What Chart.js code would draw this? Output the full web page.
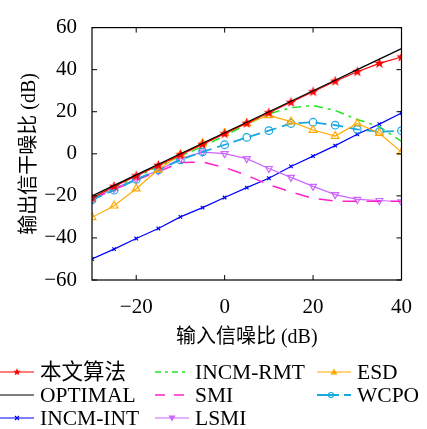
<!DOCTYPE html>
<html><head><meta charset="utf-8">
<script src="https://cdn.jsdelivr.net/npm/chart.js@4/dist/chart.umd.min.js"></script>
<style>html,body{margin:0;padding:0;background:#fff}#wrap{width:427px;height:429px;position:relative}</style>
</head><body><div id="wrap"><canvas id="c" width="427" height="429"></canvas></div>
<script>
const snrIn = [-30,-25,-20,-15,-10,-5,0,5,10,15,20,25,30,35,40];
const proposed = [-21,-15.5,-10.5,-5.5,-0.5,4.5,9.5,14.5,19.5,24.5,29.5,34.5,39,43,46];
const optimal = [-20,-15,-10,-5,0,5,10,15,20,25,30,35,40,45,50];
const incmInt = [-50,-45.3,-40.3,-35.5,-30,-25.6,-20.8,-16.1,-11.6,-6,-1.1,3.9,9.3,14.1,19.4];
const incmRmt = [-21,-16,-11,-6,-1.2,3.5,8.5,14,19,21.9,22.9,20.6,16.3,12.9,5.9];
const smi = [-21.5,-17,-12.5,-8.5,-4.2,-3.9,-6.5,-10.2,-14.7,-18.1,-21.2,-22.5,-22.5,-22.5,-22.5];
const lsmi = [-21.5,-16.5,-12,-8,-2.3,0.8,0.1,-2.3,-7,-11.2,-15.5,-19.4,-21.7,-22.2,-22.8];
const esd = [-30.2,-24.7,-16.6,-7.5,-0.3,5,9.8,14.4,18.3,15.3,11.3,8.4,14.4,9.8,0.8];
const wcpo = [-21.9,-17.3,-12.2,-7.6,-2.9,0.9,4.3,7.8,11,14.4,15,13.6,11.6,10.5,11];
const xTicks = [-20,0,20,40];
const yTicks = [-60,-40,-20,0,20,40,60];
const xTitle = '输入信噪比 (dB)';
const yTitle = '输出信干噪比 (dB)';
const names = ['本文算法','OPTIMAL','INCM-INT','INCM-RMT','SMI','LSMI','ESD','WCPO'];

const FONT = '"Liberation Serif","Noto Sans CJK SC",serif';

function starCanvas(color, r){
  const s = Math.ceil(r*2+2), c = document.createElement('canvas');
  c.width = s; c.height = s;
  const g = c.getContext('2d'); g.fillStyle = color; g.beginPath();
  for(let i=0;i<10;i++){
    const a = -Math.PI/2 + i*Math.PI/5, rr = i%2? r*0.42 : r;
    g.lineTo(s/2 + rr*Math.cos(a), s/2 + rr*Math.sin(a));
  }
  g.closePath(); g.fill(); return c;
}
const star = starCanvas('#ff0000', 5.5);
const pts = (arr)=>snrIn.map((x,i)=>({x:x,y:arr[i]}));

const styles = [
  {color:'#ff0000', data:proposed, dash:[], pointStyle:star, r:5, w:1.2},
  {color:'#000000', data:optimal, dash:[], pointStyle:false, r:0, w:1.2},
  {color:'#0000ff', data:incmInt, dash:[], pointStyle:'crossRot', r:2.5, w:1.2},
  {color:'#22e622', data:incmRmt, dash:[9,5,3,5], pointStyle:false, r:0, w:1.5},
  {color:'#ff22cc', data:smi, dash:[14,10], pointStyle:false, r:0, w:1.5},
  {color:'#cc66ff', data:lsmi, dash:[], pointStyle:'triangle', rot:180, r:4, w:1.2},
  {color:'#ffaa00', data:esd, dash:[], pointStyle:'triangle', r:4.5, w:1.2},
  {color:'#18a8e0', data:wcpo, dash:[11,6], pointStyle:'circle', r:3.8, w:1.8}
];
const datasets = styles.map((s,i)=>({
  label:names[i], data:pts(s.data), borderColor:s.color, backgroundColor:s.color,
  borderWidth:s.w, borderDash:s.dash, pointStyle:s.pointStyle||'circle',
  pointRadius:s.pointStyle? s.r:0, pointRotation:s.rot||0,
  pointBorderColor:s.color, pointBackgroundColor: (s.pointStyle==='circle'||s.pointStyle==='triangle')?'rgba(255,255,255,0)':s.color,
  pointBorderWidth:1.2, tension:0, fill:false, order: [1,0,7,4,5,6,2,3][i]
}));

const legendPos = [
  [0,372],[0,395],[0,418],[155,372],[155,395],[155,418],[317,372],[317,395]
];

const framePlugin = {
  id:'frame',
  afterDraw(chart){
    const {ctx, chartArea:a, scales:{x,y}} = chart;
    ctx.save();
    ctx.strokeStyle='#000'; ctx.lineWidth=1.2; ctx.setLineDash([]);
    ctx.strokeRect(a.left,a.top,a.right-a.left,a.bottom-a.top);
    ctx.lineWidth=1;
    const L=5;
    xTicks.forEach(v=>{const px=x.getPixelForValue(v);
      ctx.beginPath();ctx.moveTo(px,a.bottom);ctx.lineTo(px,a.bottom-L);ctx.moveTo(px,a.top);ctx.lineTo(px,a.top+L);ctx.stroke();});
    yTicks.forEach(v=>{const py=y.getPixelForValue(v);
      ctx.beginPath();ctx.moveTo(a.left,py);ctx.lineTo(a.left+L,py);ctx.moveTo(a.right,py);ctx.lineTo(a.right-L,py);ctx.stroke();});
    // legend
    ctx.font = '21.5px '+FONT; ctx.textBaseline='middle'; ctx.fillStyle='#000';
    legendPos.forEach((p,i)=>{
      const s = styles[i], [x0,yy] = p, x1 = x0+34, xm=(x0+x1)/2;
      ctx.strokeStyle=s.color; ctx.lineWidth=s.w; ctx.setLineDash(s.dash.length? (i===3?[6,4,3,4]:[10,9]):[]);
      if(i===7) ctx.setLineDash([]);
      ctx.beginPath();
      if(i===7){ctx.moveTo(x0,yy);ctx.lineTo(x0+22,yy);ctx.moveTo(x0+27,yy);ctx.lineTo(x1,yy);}
      else {ctx.moveTo(x0,yy);ctx.lineTo(x1,yy);}
      ctx.stroke(); ctx.setLineDash([]);
      ctx.lineWidth=1.2; ctx.strokeStyle=s.color; ctx.fillStyle=s.color;
      const mx = i===7? x0+14 : xm;
      if(i===0){ ctx.drawImage(starCanvas(s.color,4), mx-5, yy-5); }
      else if(i===2){ ctx.beginPath(); ctx.moveTo(mx-2,yy-2);ctx.lineTo(mx+2,yy+2);ctx.moveTo(mx+2,yy-2);ctx.lineTo(mx-2,yy+2);ctx.stroke(); }
      else if(i===5){ ctx.beginPath(); ctx.moveTo(mx-3.5,yy-2.5);ctx.lineTo(mx+3.5,yy-2.5);ctx.lineTo(mx,yy+3.5);ctx.closePath();ctx.fill(); }
      else if(i===6){ ctx.beginPath(); ctx.moveTo(mx-3.5,yy+2.5);ctx.lineTo(mx+3.5,yy+2.5);ctx.lineTo(mx,yy-3.5);ctx.closePath();ctx.fill(); }
      else if(i===7){ ctx.beginPath(); ctx.arc(mx,yy,2.5,0,Math.PI*2); ctx.stroke(); }
      ctx.fillStyle='#000';
      ctx.fillText(names[i], x0+40, yy+1);
    });
    ctx.restore();
  }
};

const fmt = v => (v<0? '\u2212'+Math.abs(v) : ''+v);

new Chart(document.getElementById('c'), {
  type:'line',
  data:{datasets:datasets},
  options:{
    responsive:false, animation:false, devicePixelRatio:1,
    layout:{padding:{left:0,right:24,top:21,bottom:79}},
    plugins:{legend:{display:false}, tooltip:{enabled:false}},
    scales:{
      x:{type:'linear', min:-30, max:40,
        afterBuildTicks(s){ s.ticks = xTicks.map(v=>({value:v})); },
        afterFit(s){ s.height = 70; },
        grid:{display:false, drawTicks:false}, border:{display:false},
        ticks:{padding:15, color:'#000', font:{family:FONT,size:21}, callback:fmt, maxRotation:0},
        title:{display:true, text:xTitle, color:'#000', font:{family:FONT,size:20}, padding:{top:4,bottom:0}}
      },
      y:{type:'linear', min:-60, max:60,
        afterBuildTicks(s){ s.ticks = yTicks.map(v=>({value:v})); },
        afterFit(s){ s.width = 92; },
        grid:{display:false, drawTicks:false}, border:{display:false},
        ticks:{padding:15, color:'#000', font:{family:FONT,size:21}, callback:fmt},
        title:{display:true, text:yTitle, color:'#000', font:{family:FONT,size:20}, padding:{top:18,bottom:0}}
      }
    }
  },
  plugins:[framePlugin]
});
</script></body></html>
